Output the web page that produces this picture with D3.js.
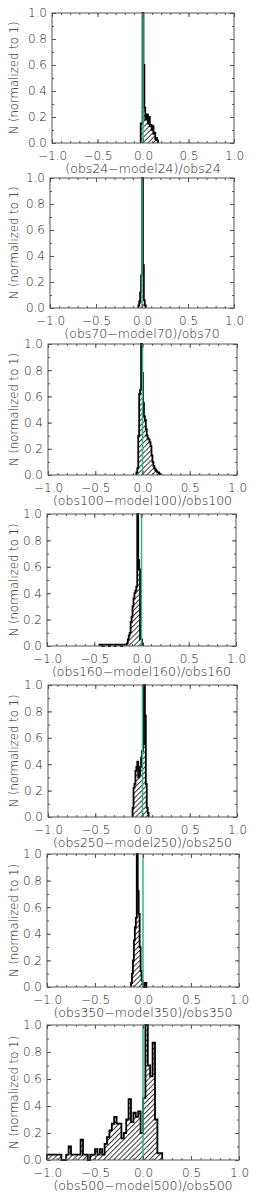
<!DOCTYPE html>
<html>
<head>
<meta charset="utf-8">
<script src="https://cdn.jsdelivr.net/npm/d3@7"></script>
<style>
  body { margin: 0; background: #fff; }
  svg { display: block; }
  text { font-family: "DejaVu Sans", sans-serif; font-weight: 200; fill: #222; }
</style>
</head>
<body>
<svg id="chart" width="258" height="1203"></svg>
<script>
"use strict";

// band names, one panel each
const bands = ["24", "70", "100", "160", "250", "350", "500"];

// histogram bins: left edge of first bin and bin width per band
const binStart = [-0.025, -0.04, -0.065, -0.445, -0.105, -0.125, -1.0];
const binWidth = [0.01, 0.01, 0.01, 0.01, 0.01, 0.01, 0.025];

// normalized counts
const n24 = [0.15, 0.15, 1.0, 0.6, 0.27, 0.18, 0.2, 0.22, 0.15, 0.2, 0.13, 0.14, 0.1, 0.13, 0.07, 0.08, 0.03, 0.04, 0.02];
const n70 = [0.02, 0.05, 0.12, 0.25, 1.0, 0.33, 0.06, 0.02];
const n100 = [0.02, 0.05, 0.3, 0.62, 0.65, 1.0, 0.78, 0.55, 0.45, 0.42, 0.35, 0.3, 0.28, 0.27, 0.25, 0.22, 0.15, 0.1, 0.07, 0.05, 0.04, 0.03, 0.02, 0.02, 0.01];
const n160 = [0.01, 0.01, 0.01, 0, 0, 0.01, 0.01, 0.01, 0.01, 0.01, 0, 0.01, 0.01, 0.01, 0.01, 0.01, 0, 0.01, 0.01, 0.01, 0.01, 0.01, 0.01, 0, 0.01, 0.01, 0.01, 0.01, 0.01,
              0.02, 0.05, 0.08, 0.1, 0.18, 0.22, 0.3, 0.36, 0.4, 0.42, 0.45, 1.0, 0.65, 0.58, 0.05, 0.05, 0.02];
const n250 = [0.07, 0.22, 0.25, 0.35, 0.38, 0.42, 0.3, 0.32, 0.38, 0.45, 0.5, 0.55, 1.0, 0.77, 0.25, 0.07, 0.03];
const n350 = [0.03, 0.1, 0.2, 0.35, 0.45, 0.52, 1.0, 0.72, 0.55, 0.3, 0.12, 0.05, 0.02, 0, 0.03, 0.03, 0];
const n500 = [0.04, 0.04, 0.04, 0.04, 0.04, 0.04, 0, 0, 0.04, 0.1, 0.04, 0.04, 0.04, 0.04, 0.15, 0.04,
              0.04, 0, 0.04, 0.04, 0.08, 0.04, 0.08, 0.04, 0.12, 0.17, 0.22, 0.27, 0.32, 0.27, 0.27, 0.16,
              0.2, 0.3, 0.45, 0.28, 0.35, 0.32, 0.36, 0.2, 0.46, 1.0, 0.7, 0.62, 0.87, 0.3, 0.05, 0.05];
const counts = [n24, n70, n100, n160, n250, n350, n500];

// axis ticks
const xTicks = [-1, -0.5, 0, 0.5, 1];
const xMinor = d3.range(-10, 11).map(function(i) { return i / 10; });
const yTicks = [0, 0.2, 0.4, 0.6, 0.8, 1.0];
const yMinor = d3.range(0, 11).map(function(i) { return i / 10; });

// position of the green reference line
const refLine = 0;

// plot boxes [left, top, right, bottom] in pixels
const boxes = [
  [52, 13, 234, 143],
  [50, 178, 234, 308],
  [48, 344, 237, 475],
  [47, 514, 236, 646],
  [48, 685, 237, 817],
  [47, 854, 239, 987],
  [47, 1025, 239, 1160]
];

const svg = d3.select("#chart");
const fmt = d3.format(".1f");

// diagonal hatching used to fill the histograms
const hatch = svg.append("defs").append("pattern")
  .attr("id", "hatch")
  .attr("patternUnits", "userSpaceOnUse")
  .attr("width", 3.6)
  .attr("height", 3.6)
  .attr("patternTransform", "rotate(45)");
hatch.append("line")
  .attr("x1", 0.5).attr("y1", 0).attr("x2", 0.5).attr("y2", 3.6)
  .attr("stroke", "#222").attr("stroke-width", 0.9);

function drawPanel(k) {
  const box = boxes[k];
  const x = d3.scaleLinear().domain([-1, 1]).range([box[0], box[2]]);
  const y = d3.scaleLinear().domain([0, 1]).range([box[3], box[1]]);
  const g = svg.append("g");

  // histogram as a step outline
  const start = binStart[k], w = binWidth[k], n = counts[k];
  const pts = [[start, 0]];
  n.forEach(function(v, i) {
    pts.push([start + i * w, v]);
    pts.push([start + (i + 1) * w, v]);
  });
  pts.push([start + n.length * w, 0]);
  const line = d3.line().x(function(d) { return x(d[0]); }).y(function(d) { return y(d[1]); });

  g.append("path")
    .attr("d", line(pts))
    .attr("fill", "url(#hatch)")
    .attr("stroke", "#000")
    .attr("stroke-width", 1.8)
    .attr("stroke-linejoin", "miter");

  // green reference line
  g.append("line")
    .attr("x1", x(refLine)).attr("x2", x(refLine))
    .attr("y1", y(0)).attr("y2", y(1))
    .attr("stroke", "#2fb98b")
    .attr("stroke-width", 1.5);

  // inward ticks on all four sides
  const axes = [
    [d3.axisBottom(x), "translate(0," + box[3] + ")", xTicks, xMinor, 8],
    [d3.axisTop(x), "translate(0," + box[1] + ")", xTicks, xMinor, 8],
    [d3.axisLeft(y), "translate(" + box[0] + ",0)", yTicks, yMinor, 5],
    [d3.axisRight(y), "translate(" + box[2] + ",0)", yTicks, yMinor, 5]
  ];
  axes.forEach(function(a, j) {
    const minorAx = g.append("g").attr("transform", a[1])
      .call(a[0].tickValues(a[3]).tickSize(-2).tickSizeOuter(0).tickFormat(""));
    minorAx.select(".domain").remove();
    minorAx.selectAll("line").attr("stroke", "#555");
    const majorAx = g.append("g").attr("transform", a[1])
      .call(a[0].tickValues(a[2]).tickSize(-4).tickSizeOuter(0).tickPadding(a[4])
        .tickFormat(j === 0 || j === 2 ? fmt : ""));
    majorAx.select(".domain").remove();
    majorAx.selectAll("line").attr("stroke", "#555");
    majorAx.selectAll("text").attr("font-size", 12).style("fill", "#222")
      .style("font-family", "'DejaVu Sans', sans-serif").style("font-weight", 200);
  });

  // frame
  g.append("rect")
    .attr("x", box[0]).attr("y", box[1])
    .attr("width", box[2] - box[0]).attr("height", box[3] - box[1])
    .attr("fill", "none").attr("stroke", "#555").attr("stroke-width", 1);

  // x title
  g.append("text")
    .attr("x", (box[0] + box[2]) / 2)
    .attr("y", box[3] + 30)
    .attr("text-anchor", "middle")
    .attr("font-size", 12.5)
    .text("(obs" + bands[k] + "\u2212model" + bands[k] + ")/obs" + bands[k]);

  // y title
  g.append("text")
    .attr("transform", "translate(18," + (box[1] + box[3]) / 2 + ") rotate(-90)")
    .attr("text-anchor", "middle")
    .attr("font-size", 11.7)
    .text("N (normalized to 1)");
}

bands.forEach(function(b, k) { drawPanel(k); });
</script>
</body>
</html>
